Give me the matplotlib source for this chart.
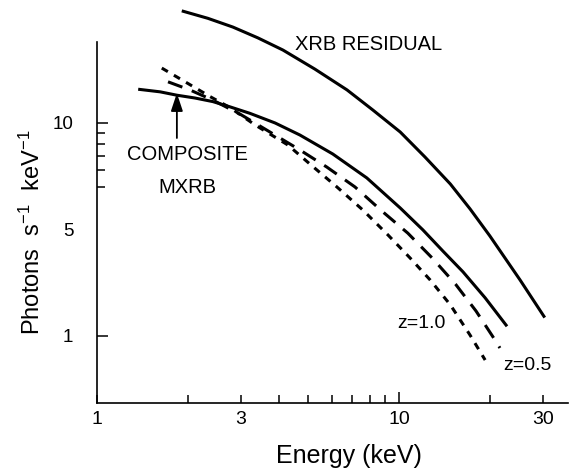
import matplotlib
matplotlib.use("Agg")
import matplotlib.pyplot as plt

plt.rcParams['font.family'] = ['Liberation Sans', 'DejaVu Sans']
plt.rcParams['mathtext.fontset'] = 'custom'
plt.rcParams['mathtext.rm'] = 'Liberation Sans'
plt.rcParams['mathtext.it'] = 'Liberation Sans'

# energy (keV) and photons s^-1 keV^-1
xrb_e = [1.91, 2.33, 2.82, 3.41, 4.13, 5.27, 6.73, 8.20, 10.1, 12.2, 14.8, 17.2, 20.0, 25.2, 30.4]
xrb_f = [33.6, 31.0, 28.2, 25.1, 22.0, 17.9, 14.3, 11.5, 9.07, 6.92, 5.17, 3.95, 2.95, 1.83, 1.22]

comp_e = [1.37, 1.62, 1.84, 2.11, 2.42, 2.76, 3.21, 3.89, 4.70, 6.04, 7.83, 10.1,
          12.0, 14.0, 16.3, 19.3, 22.8]
comp_f = [14.4, 14.0, 13.5, 13.1, 12.6, 11.9, 11.1, 10.0, 8.78, 7.15, 5.52, 3.99,
          3.15, 2.50, 2.00, 1.51, 1.11]

z05_e = [1.72, 2.03, 2.42, 2.98, 3.74, 4.70, 5.77, 7.15, 8.78, 10.7, 12.9, 15.4, 18.0, 20.8, 21.6]
z05_f = [15.6, 14.3, 12.8, 11.0, 9.07, 7.47, 6.21, 5.01, 3.86, 3.04, 2.32, 1.75, 1.31, 0.958, 0.878]

z10_e = [1.64, 1.96, 2.37, 2.76, 3.34, 4.29, 5.07, 6.23, 7.60, 9.20, 10.9, 12.7, 14.8, 17.2, 19.3]
z10_f = [18.1, 15.6, 13.3, 11.8, 9.79, 7.88, 6.42, 5.01, 3.90, 2.98, 2.32, 1.83, 1.40, 1.01, 0.771]

x_major = [1, 3, 10, 30]
x_minor = [2, 4, 5, 6, 7, 8, 9, 20]
y_major = [1, 3.15, 10]
y_labels = ['1', '5', '10']
y_minor = [5, 6, 7, 8, 9]

fig = plt.figure(figsize=(5.7, 4.76), dpi=100)
ax = fig.add_axes([0.170, 0.1534, 0.8265, 0.7584])

ax.plot(xrb_e, xrb_f, color='black', lw=2.2, clip_on=False, solid_capstyle='butt')
ax.plot(comp_e, comp_f, color='black', lw=2.2, solid_capstyle='butt')
ax.plot(z05_e, z05_f, color='black', lw=2.2, dashes=(5, 3.3), dash_capstyle='butt')
ax.plot(z10_e, z10_f, color='black', lw=2.2, dashes=(2.3, 2.3), dash_capstyle='butt')

ax.set_xscale('log')
ax.set_yscale('log')
ax.set_xlim(1, 36.3)
ax.set_ylim(0.4846, 24.0)

for s in ['top', 'right']:
    ax.spines[s].set_visible(False)
for s in ['left', 'bottom']:
    ax.spines[s].set_linewidth(1.2)

ax.set_xticks(x_major, [str(v) for v in x_major])
ax.set_xticks(x_minor, minor=True)
ax.set_xticklabels([], minor=True)
ax.set_yticks(y_major, y_labels)
ax.set_yticks(y_minor, minor=True)
ax.set_yticklabels([], minor=True)

ax.tick_params(axis='x', which='both', direction='in', length=6, width=1.1,
               labelsize=14, pad=6)
ax.tick_params(axis='y', which='major', direction='in', length=8, width=1.1,
               labelsize=13.5, pad=17)
ax.tick_params(axis='y', which='minor', direction='in', length=5.5, width=1.1)
ax.xaxis.get_major_ticks()[2].tick1line.set_markersize(8)
ax.yaxis.get_major_ticks()[1].tick1line.set_visible(False)

ax.set_xlabel('Energy (keV)', fontsize=18)
ax.xaxis.set_label_coords(0.535, -0.115)
ax.set_ylabel('Photons  s$^{-1}$  keV$^{-1}$', fontsize=17)
ax.yaxis.set_label_coords(-0.11, 0.474)

ax.text(4.53, 22.0, 'XRB RESIDUAL', fontsize=14.5, ha='left', va='baseline')
ax.text(1.994, 6.71, 'COMPOSITE', fontsize=14.5, ha='center', va='baseline')
ax.text(1.994, 4.69, 'MXRB', fontsize=14.5, ha='center', va='baseline')
ax.text(9.85, 1.09, 'z=1.0', fontsize=14, ha='left', va='baseline')
ax.text(22.1, 0.692, 'z=0.5', fontsize=14, ha='left', va='baseline')

ax.annotate('', xy=(1.84, 13.8), xytext=(1.84, 8.5),
            arrowprops=dict(arrowstyle='-|>,head_length=0.6,head_width=0.2',
                            mutation_scale=18, lw=1.3, color='black',
                            shrinkA=0, shrinkB=0))

fig.savefig('out.png', dpi=100)
